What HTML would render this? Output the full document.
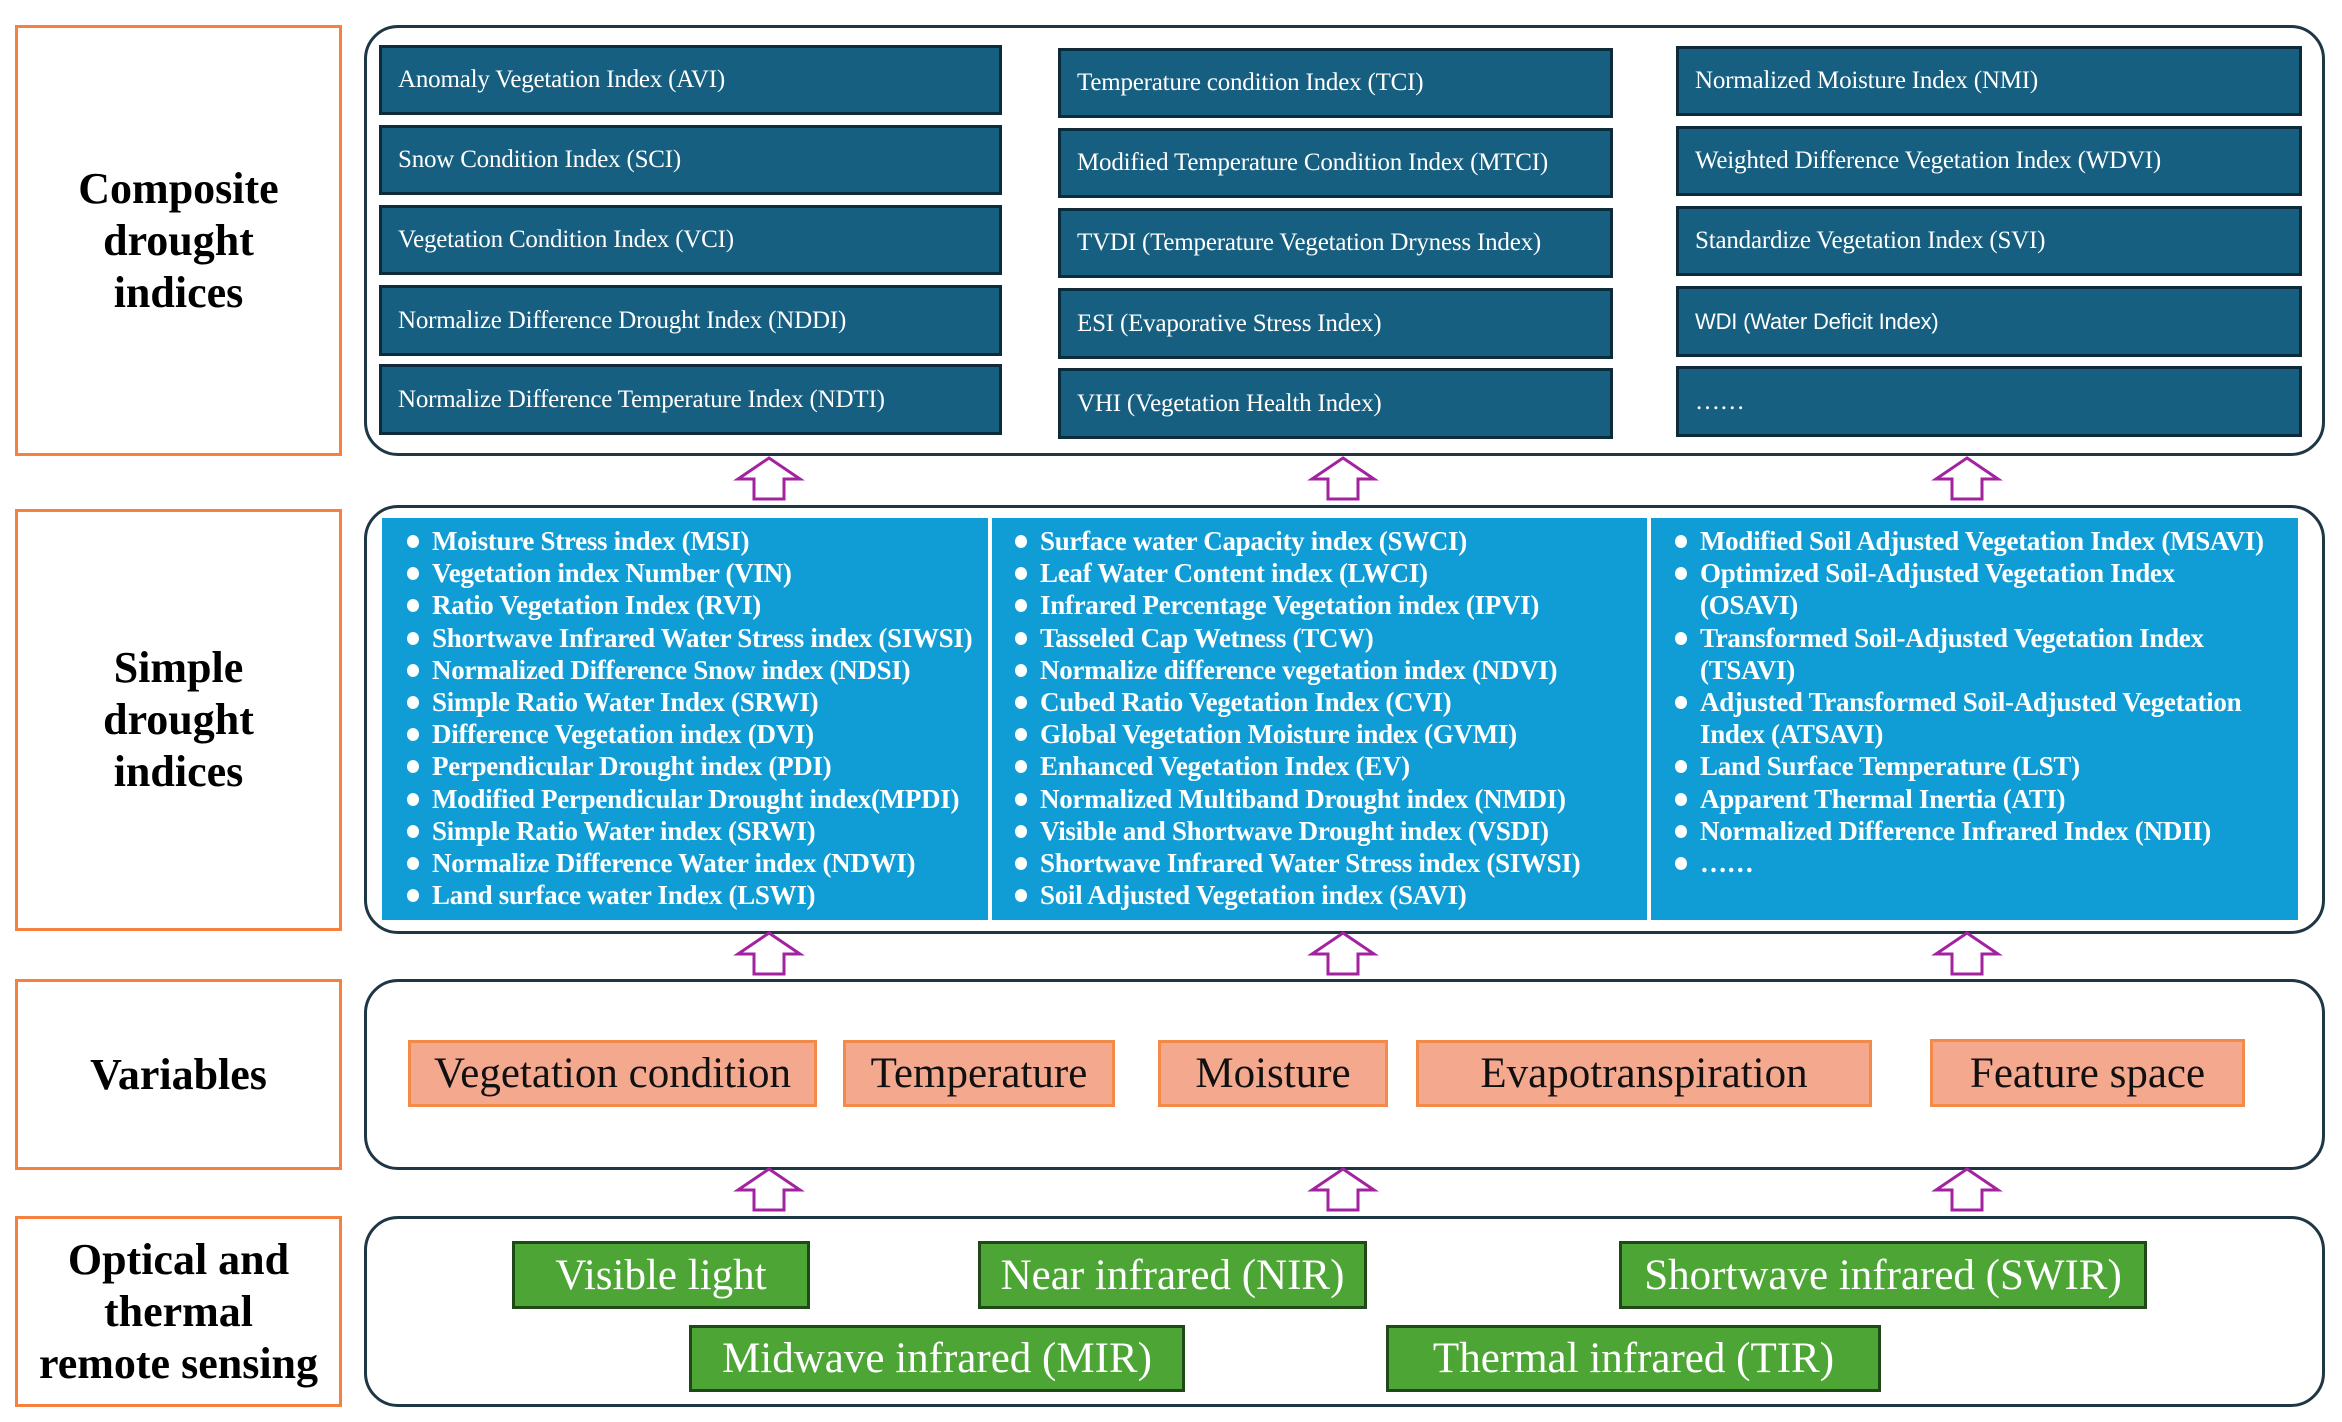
<!DOCTYPE html>
<html><head><meta charset="utf-8"><style>
*{margin:0;padding:0;box-sizing:border-box}
body{width:2342px;height:1422px;background:#fff;position:relative;overflow:hidden;font-family:"Liberation Serif",serif}
.a{position:absolute}
.lab{position:absolute;border:3px solid #f4823e;display:flex;align-items:center;justify-content:center;text-align:center;font-weight:bold;font-size:44px;line-height:52px;color:#000}
.cont{position:absolute;border:3px solid #1f3644;border-radius:34px}
.db{position:absolute;background:#175f80;border:3px solid #0e2b3b;color:#fff;font-size:25px;letter-spacing:-0.2px;display:flex;align-items:center;padding-left:16px;white-space:nowrap}
.panel{position:absolute;background:#109dd5}
.ul{position:absolute;color:#fff;font-weight:bold;font-size:27px;letter-spacing:-0.3px;line-height:32.2px;white-space:nowrap}
.ul div{position:relative}
.ul div.b::before{content:"";position:absolute;left:-25px;top:10px;width:12px;height:13px;border-radius:50%;background:#fff}
.var{position:absolute;background:#f4a88e;border:3px solid #f28a4a;font-size:43px;display:flex;align-items:center;justify-content:center;color:#111;white-space:nowrap}
.gr{position:absolute;background:#4ca534;border:3px solid #1f4a18;font-size:43px;display:flex;align-items:center;justify-content:center;color:#fff;white-space:nowrap}
</style></head><body>

<div class="lab" style="left:15px;top:25px;width:327px;height:431px">Composite<br>drought<br>indices</div>
<div class="lab" style="left:15px;top:509px;width:327px;height:422px">Simple<br>drought<br>indices</div>
<div class="lab" style="left:15px;top:979px;width:327px;height:191px">Variables</div>
<div class="lab" style="left:15px;top:1216px;width:327px;height:191px">Optical and<br>thermal<br>remote sensing</div>

<div class="cont" style="left:364px;top:25px;width:1961px;height:431px"></div>
<div class="cont" style="left:364px;top:505px;width:1961px;height:429px"></div>
<div class="cont" style="left:364px;top:979px;width:1961px;height:191px"></div>
<div class="cont" style="left:364px;top:1216px;width:1961px;height:191px"></div>

<div class="db" style="left:379px;top:45px;width:623px;height:70px">Anomaly Vegetation Index (AVI)</div>
<div class="db" style="left:379px;top:125px;width:623px;height:70px">Snow Condition Index (SCI)</div>
<div class="db" style="left:379px;top:205px;width:623px;height:70px">Vegetation Condition Index (VCI)</div>
<div class="db" style="left:379px;top:285px;width:623px;height:71px">Normalize Difference Drought Index (NDDI)</div>
<div class="db" style="left:379px;top:364px;width:623px;height:71px">Normalize Difference Temperature Index (NDTI)</div>

<div class="db" style="left:1058px;top:48px;width:555px;height:70px">Temperature condition Index (TCI)</div>
<div class="db" style="left:1058px;top:128px;width:555px;height:70px">Modified Temperature Condition Index (MTCI)</div>
<div class="db" style="left:1058px;top:208px;width:555px;height:70px">TVDI (Temperature Vegetation Dryness Index)</div>
<div class="db" style="left:1058px;top:288px;width:555px;height:71px">ESI (Evaporative Stress Index)</div>
<div class="db" style="left:1058px;top:368px;width:555px;height:71px">VHI (Vegetation Health Index)</div>

<div class="db" style="left:1676px;top:46px;width:626px;height:70px">Normalized Moisture Index (NMI)</div>
<div class="db" style="left:1676px;top:126px;width:626px;height:70px">Weighted Difference Vegetation Index (WDVI)</div>
<div class="db" style="left:1676px;top:206px;width:626px;height:70px">Standardize Vegetation Index (SVI)</div>
<div class="db" style="left:1676px;top:286px;width:626px;height:71px;font-family:'Liberation Sans',sans-serif;font-size:22px">WDI (Water Deficit Index)</div>
<div class="db" style="left:1676px;top:366px;width:626px;height:71px">……</div>

<div class="panel" style="left:382px;top:518px;width:1916px;height:402px"></div>
<div class="a" style="left:988px;top:518px;width:4px;height:402px;background:#fff"></div>
<div class="a" style="left:1647px;top:518px;width:4px;height:402px;background:#fff"></div>

<div class="ul" style="left:432px;top:525px">
<div class="b">Moisture Stress index (MSI)</div>
<div class="b">Vegetation index Number (VIN)</div>
<div class="b">Ratio Vegetation Index (RVI)</div>
<div class="b">Shortwave Infrared Water Stress index (SIWSI)</div>
<div class="b">Normalized Difference Snow index (NDSI)</div>
<div class="b">Simple Ratio Water Index (SRWI)</div>
<div class="b">Difference Vegetation index (DVI)</div>
<div class="b">Perpendicular Drought index (PDI)</div>
<div class="b">Modified Perpendicular Drought index(MPDI)</div>
<div class="b">Simple Ratio Water index (SRWI)</div>
<div class="b">Normalize Difference Water index (NDWI)</div>
<div class="b">Land surface water Index (LSWI)</div>
</div>
<div class="ul" style="left:1040px;top:525px">
<div class="b">Surface water Capacity index (SWCI)</div>
<div class="b">Leaf Water Content index (LWCI)</div>
<div class="b">Infrared Percentage Vegetation index (IPVI)</div>
<div class="b">Tasseled Cap Wetness (TCW)</div>
<div class="b">Normalize difference vegetation index (NDVI)</div>
<div class="b">Cubed Ratio Vegetation Index (CVI)</div>
<div class="b">Global Vegetation Moisture index (GVMI)</div>
<div class="b">Enhanced Vegetation Index (EV)</div>
<div class="b">Normalized Multiband Drought index (NMDI)</div>
<div class="b">Visible and Shortwave Drought index (VSDI)</div>
<div class="b">Shortwave Infrared Water Stress index (SIWSI)</div>
<div class="b">Soil Adjusted Vegetation index (SAVI)</div>
</div>
<div class="ul" style="left:1700px;top:525px">
<div class="b">Modified Soil Adjusted Vegetation Index (MSAVI)</div>
<div class="b">Optimized Soil-Adjusted Vegetation Index</div>
<div>(OSAVI)</div>
<div class="b">Transformed Soil-Adjusted Vegetation Index</div>
<div>(TSAVI)</div>
<div class="b">Adjusted Transformed Soil-Adjusted Vegetation</div>
<div>Index (ATSAVI)</div>
<div class="b">Land Surface Temperature (LST)</div>
<div class="b">Apparent Thermal Inertia (ATI)</div>
<div class="b">Normalized Difference Infrared Index (NDII)</div>
<div class="b">……</div>
</div>

<div class="var" style="left:408px;top:1040px;width:409px;height:67px">Vegetation condition</div>
<div class="var" style="left:843px;top:1040px;width:272px;height:67px">Temperature</div>
<div class="var" style="left:1158px;top:1040px;width:230px;height:67px">Moisture</div>
<div class="var" style="left:1416px;top:1040px;width:456px;height:67px">Evapotranspiration</div>
<div class="var" style="left:1930px;top:1039px;width:315px;height:68px">Feature space</div>

<div class="gr" style="left:512px;top:1241px;width:298px;height:68px">Visible light</div>
<div class="gr" style="left:978px;top:1241px;width:389px;height:68px">Near infrared (NIR)</div>
<div class="gr" style="left:1619px;top:1241px;width:528px;height:68px">Shortwave infrared (SWIR)</div>
<div class="gr" style="left:689px;top:1325px;width:496px;height:67px">Midwave infrared (MIR)</div>
<div class="gr" style="left:1386px;top:1325px;width:495px;height:67px">Thermal infrared (TIR)</div>

<svg class="a" style="left:0;top:0" width="2342" height="1422">
<defs><polygon id="ar" points="0,-21 31,0 15,0 15,20 -15,20 -15,0 -31,0" fill="#fff" stroke="#a3229f" stroke-width="3"/></defs>
<use href="#ar" x="769" y="479"/><use href="#ar" x="1343" y="479"/><use href="#ar" x="1967" y="479"/>
<use href="#ar" x="769" y="954"/><use href="#ar" x="1343" y="954"/><use href="#ar" x="1967" y="954"/>
<use href="#ar" x="769" y="1190"/><use href="#ar" x="1343" y="1190"/><use href="#ar" x="1967" y="1190"/>
</svg>
</body></html>
